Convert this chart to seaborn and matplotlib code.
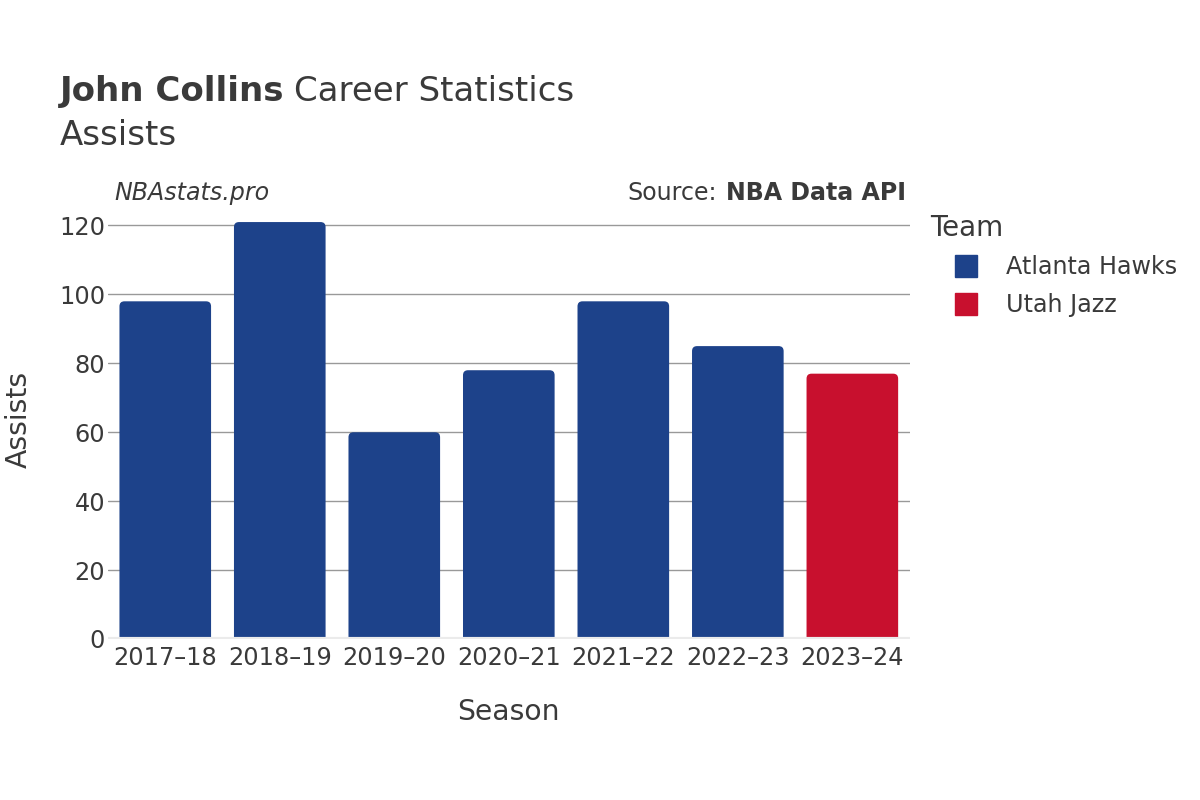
import seaborn as sns
import pandas as pd
import matplotlib.pyplot as plt
from matplotlib.patches import FancyBboxPatch
from matplotlib.lines import Line2D

# data
seasons = ['2017–18', '2018–19', '2019–20', '2020–21', '2021–22', '2022–23', '2023–24']
assists = [98, 121, 60, 78, 98, 85, 77]
teams = ['Atlanta Hawks', 'Atlanta Hawks', 'Atlanta Hawks', 'Atlanta Hawks',
         'Atlanta Hawks', 'Atlanta Hawks', 'Utah Jazz']
team_colors = {'Atlanta Hawks': '#1D428A', 'Utah Jazz': '#C8102E'}

df = pd.DataFrame({'season': seasons, 'assists': assists, 'team': teams})

sns.set_theme(style='white')
plt.rcParams['font.family'] = ['DejaVu Sans']
text_color = '#3a3a3a'

fig = plt.figure(figsize=(12, 8), dpi=100)
ax = fig.add_axes([0.09, 0.20125, 0.668, 0.54875])

sns.barplot(data=df, x='season', y='assists', hue='team', order=seasons,
            palette=team_colors, saturation=1, dodge=False, width=0.8,
            legend=False, ax=ax)

ax.set_ylim(0, 127.4)
ax.set_xlim(-0.5, len(seasons) - 0.5)

# swap the plain bars for ones with rounded tops
px_x = 802 / len(seasons)
px_y = 414 / 120
r = 5 / px_x
for p in list(ax.patches):
    x, w, h = p.get_x(), p.get_width(), p.get_height()
    if h <= 0:
        continue
    fc = p.get_facecolor()
    p.set_visible(False)
    box = FancyBboxPatch((x, -3), w, h + 3,
                         boxstyle=f'round,pad=0,rounding_size={r}',
                         mutation_aspect=(px_x / px_y),
                         facecolor=fc, edgecolor='none', zorder=3)
    ax.add_patch(box)

ax.set_yticks(range(0, 121, 20))
ax.grid(axis='y', color='#999999', linewidth=1, zorder=0)
ax.axhline(0, color='#ebebeb', linewidth=3, zorder=4)
for s in ax.spines.values():
    s.set_visible(False)
ax.tick_params(axis='both', labelsize=17.3, colors=text_color, length=0)
ax.tick_params(axis='x', pad=5)
ax.tick_params(axis='y', pad=2)
ax.set_xlabel('Season', fontsize=20.3, color=text_color, labelpad=20.5)
ax.set_ylabel('Assists', fontsize=20.3, color=text_color, labelpad=19)

renderer = fig.canvas.get_renderer()

def text_after(prev, s, gap, **kw):
    # put a text right after another one on the same baseline
    bb = prev.get_window_extent(renderer=renderer)
    x = (bb.x1 + gap) / fig.bbox.width
    return fig.text(x, prev.get_position()[1], s, **kw)

# titles
t1 = fig.text(0.05, 0.874, 'John Collins', fontsize=24.5, fontweight='bold',
              color=text_color, va='baseline')
text_after(t1, 'Career Statistics', 10, fontsize=24.5, color=text_color, va='baseline')
fig.text(0.05, 0.819, 'Assists', fontsize=24.5, color=text_color, va='baseline')

# watermark and source
fig.text(0.095, 0.75, 'NBAstats.pro', fontsize=17.1, style='italic',
         color=text_color, va='baseline')
fig.text(0.755, 0.75, 'NBA Data API', fontsize=17.1, fontweight='bold',
         color=text_color, va='baseline', ha='right')
fig.text(0.5975, 0.75, 'Source:', fontsize=17.1, color=text_color,
         va='baseline', ha='right')

# legend
handles = [Line2D([0], [0], marker='s', linestyle='none', markersize=16,
                  markerfacecolor=team_colors[t], markeredgecolor=team_colors[t])
           for t in team_colors]
leg = fig.legend(handles, list(team_colors), title='Team', loc='upper left',
                 bbox_to_anchor=(0.775, 0.733), frameon=False, fontsize=17.2,
                 title_fontsize=20, handlelength=3.0, handletextpad=0.2,
                 labelspacing=0.58, borderpad=0, borderaxespad=0)
leg._legend_box.align = 'left'
for t in leg.get_texts():
    t.set_color(text_color)
leg.get_title().set_color(text_color)

fig.savefig('out.png', dpi=100)
